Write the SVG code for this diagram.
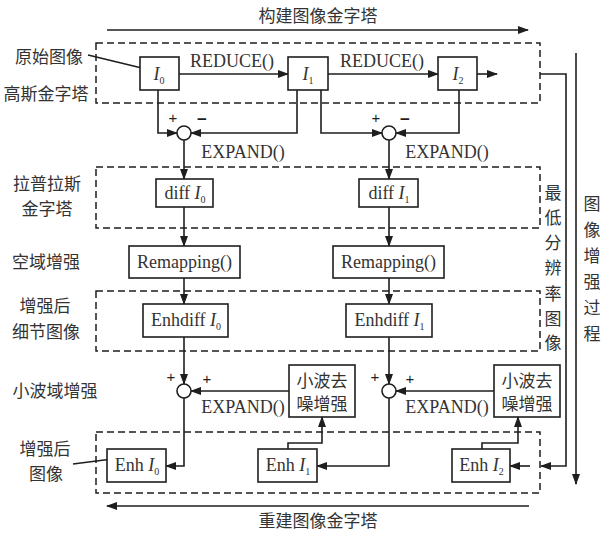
<svg xmlns="http://www.w3.org/2000/svg" width="603" height="534" viewBox="0 0 603 534">
<defs>
<marker id="ah" markerUnits="userSpaceOnUse" markerWidth="11" markerHeight="8" refX="10" refY="4" orient="auto">
<path d="M0,0 L11,4 L0,8 z" fill="#1e1e1e"/>
</marker>
<style>
.bx{fill:#fff;stroke:#1e1e1e;stroke-width:1.6}
.db{fill:none;stroke:#1e1e1e;stroke-width:1.5;stroke-dasharray:7 4}
.ln{fill:none;stroke:#1e1e1e;stroke-width:1.6}
.ar{fill:none;stroke:#1e1e1e;stroke-width:1.6;marker-end:url(#ah)}
.cj{font-family:"Noto Sans CJK SC","Noto Sans",sans-serif;font-size:17px;fill:#333}
.en{font-family:"Liberation Serif",serif;font-size:18px;fill:#333}
.mid{text-anchor:middle}
.it{font-style:italic}
.sb{font-size:10px}
.pl{font-family:"Liberation Sans",sans-serif;font-size:15px;fill:#222;text-anchor:middle}
.mi{font-family:"Liberation Sans",sans-serif;font-size:17px;font-weight:bold;fill:#1e1e1e;text-anchor:middle}
</style>
</defs>
<rect width="603" height="534" fill="#fff"/>

<g id="labels">
<text class="cj mid" x="318" y="22">构建图像金字塔</text>
<text class="cj mid" x="318" y="527">重建图像金字塔</text>
<text class="cj mid" x="49" y="63">原始图像</text>
<text class="cj mid" x="46" y="100">高斯金字塔</text>
<text class="cj mid" x="47" y="190">拉普拉斯</text>
<text class="cj mid" x="47" y="215">金字塔</text>
<text class="cj mid" x="46" y="268">空域增强</text>
<text class="cj mid" x="45" y="312">增强后</text>
<text class="cj mid" x="46" y="338">细节图像</text>
<text class="cj mid" x="55" y="397">小波域增强</text>
<text class="cj mid" x="45" y="455">增强后</text>
<text class="cj mid" x="46" y="480">图像</text>
<text class="cj mid"><tspan x="553" y="199">最</tspan><tspan x="553" y="224">低</tspan><tspan x="553" y="249">分</tspan><tspan x="553" y="274">辨</tspan><tspan x="553" y="300">率</tspan><tspan x="553" y="325">图</tspan><tspan x="553" y="349">像</tspan></text>
<text class="cj mid"><tspan x="592" y="210">图</tspan><tspan x="592" y="236">像</tspan><tspan x="592" y="262">增</tspan><tspan x="592" y="288">强</tspan><tspan x="592" y="314">过</tspan><tspan x="592" y="340">程</tspan></text>
<text class="en mid" x="232" y="67">REDUCE()</text>
<text class="en mid" x="382" y="67">REDUCE()</text>
<text class="en mid" x="243" y="158">EXPAND()</text>
<text class="en mid" x="447" y="158">EXPAND()</text>
<text class="en mid" x="243" y="413">EXPAND()</text>
<text class="en mid" x="447" y="413">EXPAND()</text>
<text class="pl" x="173" y="123">+</text>
<text class="mi" x="202" y="125">−</text>
<text class="pl" x="376" y="123">+</text>
<text class="mi" x="405" y="125">−</text>
<text class="pl" x="171" y="382">+</text>
<text class="pl" x="207" y="384">+</text>
<text class="pl" x="375" y="382">+</text>
<text class="pl" x="410" y="384">+</text>
</g>

<g id="groups">
<rect class="db" x="96" y="43" width="444" height="60"/>
<rect class="db" x="96" y="167" width="444" height="61"/>
<rect class="db" x="96" y="291" width="444" height="60"/>
<rect class="db" x="96" y="432" width="444" height="61"/>
</g>

<g id="connectors">
<line class="ar" x1="107" y1="30" x2="528" y2="30"/>
<line class="ar" x1="529" y1="506" x2="107" y2="506"/>
<line class="ar" x1="88" y1="55" x2="150" y2="70"/>
<line class="ar" x1="73" y1="464" x2="120" y2="458"/>
<line class="ar" x1="179" y1="74" x2="288" y2="74"/>
<line class="ar" x1="328" y1="74" x2="438" y2="74"/>
<line class="ar" x1="477" y1="74" x2="497" y2="74"/>
<polyline class="ar" points="158,90 158,133 177,133"/>
<polyline class="ar" points="297,90 297,133 191,133"/>
<polyline class="ar" points="321,90 321,133 382,133"/>
<polyline class="ar" points="459,90 459,133 396,133"/>
<line class="ar" x1="184" y1="140" x2="184" y2="179"/>
<line class="ar" x1="389" y1="140" x2="389" y2="179"/>
<line class="ar" x1="184" y1="207" x2="184" y2="246"/>
<line class="ar" x1="389" y1="207" x2="389" y2="246"/>
<line class="ar" x1="184" y1="278" x2="184" y2="304"/>
<line class="ar" x1="389" y1="278" x2="389" y2="304"/>
<line class="ar" x1="184" y1="337" x2="184" y2="384"/>
<line class="ar" x1="389" y1="337" x2="389" y2="384"/>
<line class="ar" x1="289" y1="391" x2="191" y2="391"/>
<line class="ar" x1="494" y1="391" x2="396" y2="391"/>
<polyline class="ar" points="184,398 184,466 166,466"/>
<polyline class="ar" points="389,398 389,466 317,466"/>
<polyline class="ar" points="288,449 288,443 322,443 322,417"/>
<polyline class="ar" points="482,449 482,443 518,443 518,417"/>
<polyline class="ar" points="540,74 566,74 566,466 541,466"/>
<line class="ar" x1="530" y1="466" x2="510" y2="466"/>
<line class="ar" x1="576" y1="53" x2="576" y2="484"/>
</g>

<g id="I0"><rect class="bx" x="140" y="57" width="39" height="33"/><text class="en mid" x="159" y="80"><tspan class="it">I</tspan><tspan class="sb" dy="4">0</tspan></text></g>
<g id="I1"><rect class="bx" x="288" y="57" width="40" height="33"/><text class="en mid" x="308" y="80"><tspan class="it">I</tspan><tspan class="sb" dy="4">1</tspan></text></g>
<g id="I2"><rect class="bx" x="438" y="57" width="39" height="33"/><text class="en mid" x="458" y="80"><tspan class="it">I</tspan><tspan class="sb" dy="4">2</tspan></text></g>

<g id="sum1"><circle class="bx" cx="184" cy="133" r="7"/></g>
<g id="sum2"><circle class="bx" cx="389" cy="133" r="7"/></g>
<g id="sum3"><circle class="bx" cx="184" cy="391" r="7"/></g>
<g id="sum4"><circle class="bx" cx="389" cy="391" r="7"/></g>

<g id="diff0"><rect class="bx" x="156" y="179" width="57" height="28"/><text class="en mid" x="185" y="199">diff <tspan class="it">I</tspan><tspan class="sb" dy="4">0</tspan></text></g>
<g id="diff1"><rect class="bx" x="359" y="179" width="59" height="28"/><text class="en mid" x="389" y="199">diff <tspan class="it">I</tspan><tspan class="sb" dy="4">1</tspan></text></g>

<g id="remap0"><rect class="bx" x="129" y="246" width="111" height="32"/><text class="en mid" x="184.5" y="268">Remapping()</text></g>
<g id="remap1"><rect class="bx" x="333" y="246" width="111" height="32"/><text class="en mid" x="388.5" y="268">Remapping()</text></g>

<g id="enhdiff0"><rect class="bx" x="143" y="304" width="85" height="33"/><text class="en mid" x="186" y="326">Enhdiff <tspan class="it">I</tspan><tspan class="sb" dy="4">0</tspan></text></g>
<g id="enhdiff1"><rect class="bx" x="346" y="304" width="86" height="33"/><text class="en mid" x="389.5" y="326">Enhdiff <tspan class="it">I</tspan><tspan class="sb" dy="4">1</tspan></text></g>

<g id="wave1"><rect class="bx" x="289" y="365" width="66" height="52"/><text class="cj mid" x="322" y="387">小波去</text><text class="cj mid" x="322" y="410">噪增强</text></g>
<g id="wave2"><rect class="bx" x="494" y="365" width="66" height="52"/><text class="cj mid" x="527" y="387">小波去</text><text class="cj mid" x="527" y="410">噪增强</text></g>

<g id="enh0"><rect class="bx" x="107" y="449" width="59" height="33"/><text class="en mid" x="137" y="471">Enh <tspan class="it">I</tspan><tspan class="sb" dy="4">0</tspan></text></g>
<g id="enh1"><rect class="bx" x="258" y="449" width="59" height="33"/><text class="en mid" x="288" y="471">Enh <tspan class="it">I</tspan><tspan class="sb" dy="4">1</tspan></text></g>
<g id="enh2"><rect class="bx" x="452" y="449" width="58" height="33"/><text class="en mid" x="481.5" y="471">Enh <tspan class="it">I</tspan><tspan class="sb" dy="4">2</tspan></text></g>
</svg>
